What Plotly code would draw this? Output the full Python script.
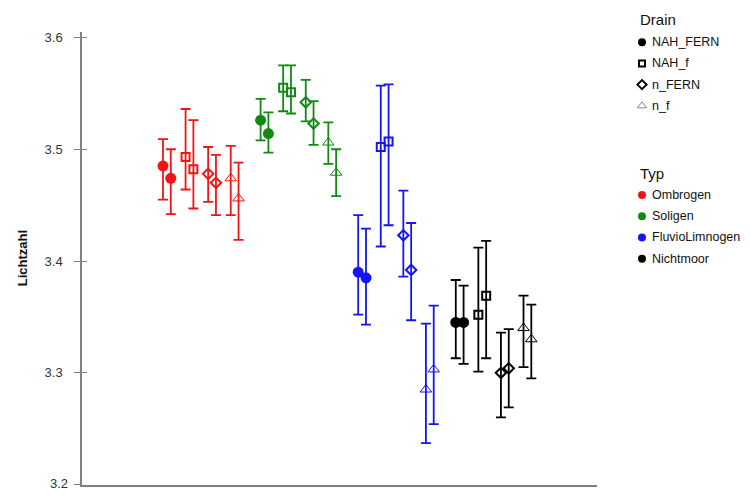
import plotly.graph_objects as go

# ---------------- data ----------------
groups = ["Ombrogen", "Soligen", "FluvioLimnogen", "Nichtmoor"]
group_colors = ["#f01414", "#108a10", "#1414f5", "#000000"]
drains = ["NAH_FERN", "NAH_f", "n_FERN", "n_f"]

# rows = group (Typ), columns = drain; "a" = left point of each pair, "b" = right point
mean_a = [[3.485, 3.493, 3.478, 3.474],
          [3.526, 3.555, 3.542, 3.506],
          [3.390, 3.502, 3.423, 3.285],
          [3.345, 3.352, 3.300, 3.340]]
low_a = [[3.455, 3.464, 3.453, 3.441],
         [3.508, 3.534, 3.525, 3.487],
         [3.352, 3.413, 3.386, 3.237],
         [3.313, 3.301, 3.260, 3.305]]
high_a = [[3.509, 3.536, 3.502, 3.503],
          [3.545, 3.575, 3.562, 3.524],
          [3.441, 3.557, 3.463, 3.344],
          [3.383, 3.412, 3.336, 3.369]]
mean_b = [[3.474, 3.482, 3.470, 3.456],
          [3.514, 3.551, 3.523, 3.479],
          [3.385, 3.507, 3.392, 3.303],
          [3.345, 3.369, 3.304, 3.330]]
low_b = [[3.442, 3.447, 3.441, 3.419],
         [3.497, 3.532, 3.504, 3.458],
         [3.343, 3.432, 3.347, 3.254],
         [3.308, 3.313, 3.269, 3.295]]
high_b = [[3.500, 3.526, 3.495, 3.488],
          [3.533, 3.575, 3.543, 3.500],
          [3.429, 3.558, 3.434, 3.360],
          [3.378, 3.418, 3.339, 3.361]]

y_ticks = [3.2, 3.3, 3.4, 3.5, 3.6]
y_label = "Lichtzahl"

# ---------------- styles ----------------
OFF = 8  # default page body margin of the browser
W, H = 750 - OFF, 498 - 2 * OFF
FONT = "Liberation Sans, Arial, sans-serif"
AX_COL = "#808080"
TICK_COL = "#333"
drain_style = {
    "NAH_FERN": dict(symbol="circle", size=11, lw=0),
    "NAH_f": dict(symbol="square-open", size=8, lw=2),
    "n_FERN": dict(symbol="diamond-open", size=8, lw=2),
    "n_f": dict(symbol="triangle-up-open", size=10, lw=1),
}
drain_step = 0.2313
pair_off = 0.04

# pixel geometry of plot area (page pixels shifted by OFF)
px_left, px_right, px_top, px_bottom = 82 - OFF, 597 - OFF, 30 - OFF, 484.5 - OFF
y_min, y_max = 3.2, 3.605
x_min, x_max = -0.217, 5.06
tick_out, label_gap = 6, 9

fig = go.Figure()

for gi, g in enumerate(groups):
    col = group_colors[gi]
    for di, d in enumerate(drains):
        st = drain_style[d]
        base = (gi + 1) + (di - 1.5) * drain_step
        xs = [base - pair_off, base + pair_off]
        ys = [mean_a[gi][di], mean_b[gi][di]]
        up = [high_a[gi][di] - mean_a[gi][di], high_b[gi][di] - mean_b[gi][di]]
        dn = [mean_a[gi][di] - low_a[gi][di], mean_b[gi][di] - low_b[gi][di]]
        fig.add_trace(go.Scatter(
            x=xs, y=ys, mode="markers", showlegend=False,
            name=f"{g} / {d}",
            marker=dict(symbol=st["symbol"], size=st["size"], color=col,
                        line=dict(color=col, width=st["lw"])),
            error_y=dict(type="data", array=up, arrayminus=dn, color=col,
                         thickness=1.8, width=5),
            xaxis="x", yaxis="y",
        ))

# invisible trace to carry the inner tick axis
fig.add_trace(go.Scatter(x=[None], y=[None], xaxis="x", yaxis="y3",
                         showlegend=False, hoverinfo="skip"))

# ---------------- manual legend (pixel coordinate overlay axis) ----------------
leg_x_title = 640 - OFF
leg_x_mark = 642 - OFF
leg_x_text = 652 - OFF
leg_drain_title = 18 - OFF
leg_typ_title = 172 - OFF
row_gap = 21.3

def label(x, y, text, size):
    return dict(x=x, y=y, xref="x2", yref="y2", text=text, showarrow=False,
                xanchor="left", yanchor="middle", borderpad=0, borderwidth=0,
                font=dict(family=FONT, size=size, color="#111"))

annotations = [label(leg_x_title, leg_drain_title, "Drain", 15)]
leg_sizes = {"NAH_FERN": 8, "NAH_f": 6, "n_FERN": 7, "n_f": 8}
for i, d in enumerate(drains):
    st = drain_style[d]
    yy = leg_drain_title + (i + 1) * row_gap + 1
    lc = "#888888" if d == "n_f" else "#000000"
    lw = 0 if d == "NAH_FERN" else max(st["lw"], 1)
    fig.add_trace(go.Scatter(x=[leg_x_mark], y=[yy], xaxis="x2", yaxis="y2", mode="markers",
                             showlegend=False, hoverinfo="skip",
                             marker=dict(symbol=st["symbol"], size=leg_sizes[d], color=lc,
                                         line=dict(color=lc, width=lw))))
    annotations.append(label(leg_x_text, yy, d, 12.5))

annotations.append(label(leg_x_title, leg_typ_title, "Typ", 15))
for i, g in enumerate(groups):
    yy = leg_typ_title + (i + 1) * row_gap + 0.5
    fig.add_trace(go.Scatter(x=[leg_x_mark], y=[yy], xaxis="x2", yaxis="y2", mode="markers",
                             showlegend=False, hoverinfo="skip",
                             marker=dict(symbol="circle", size=8, color=group_colors[i])))
    annotations.append(label(leg_x_text, yy, g, 12.5))

# y-axis title
annotations.append(dict(x=22 - OFF, y=(px_top + px_bottom) / 2, xref="x2", yref="y2",
                        text=f"<b>{y_label}</b>",
                        showarrow=False, textangle=-90, xanchor="center", yanchor="middle",
                        font=dict(family=FONT, size=13, color="#111")))

# lowest tick label sits at the very bottom edge; draw it as text kept inside the figure
annotations.append(dict(x=px_left - tick_out - label_gap + 1, y=H, xref="x2", yref="y2",
                        text=f"{y_ticks[0]:.1f}", showarrow=False,
                        xanchor="right", yanchor="bottom", borderpad=0, borderwidth=0,
                        yshift=-1,
                        font=dict(family=FONT, size=13, color=TICK_COL)))

xdom = [px_left / W, px_right / W]
ydom = [(H - px_bottom) / H, (H - px_top) / H]

fig.update_layout(
    width=W, height=H,
    margin=dict(l=0, r=0, t=0, b=0),
    paper_bgcolor="white", plot_bgcolor="rgba(0,0,0,0)",
    showlegend=False,
    font=dict(family=FONT),
    xaxis=dict(domain=xdom, range=[x_min, x_max], showgrid=False, zeroline=False,
               showticklabels=False, ticks="", showline=True, linecolor=AX_COL, linewidth=1.5,
               anchor="y", fixedrange=True),
    yaxis=dict(domain=ydom, range=[y_min, y_max], tickvals=y_ticks,
               ticktext=[f"{v:.1f}" for v in y_ticks], showgrid=False, zeroline=False,
               showline=True, linecolor=AX_COL, linewidth=1.5, ticks="outside", ticklen=tick_out,
               tickwidth=1.2, tickcolor=AX_COL, ticklabelstandoff=label_gap,
               tickfont=dict(family=FONT, size=13, color=TICK_COL), anchor="x"),
    yaxis3=dict(overlaying="y", anchor="x", side="left", range=[y_min, y_max], tickvals=y_ticks,
                showticklabels=False, showgrid=False, zeroline=False, showline=False,
                ticks="inside", ticklen=5, tickwidth=1.2, tickcolor=AX_COL),
    xaxis2=dict(domain=[0, 1], range=[0, W], visible=False, anchor="y2", fixedrange=True),
    yaxis2=dict(domain=[0, 1], range=[H, 0], visible=False, anchor="x2", fixedrange=True),
    annotations=annotations,
)

fig.write_html("out.html", config={"displayModeBar": False})
